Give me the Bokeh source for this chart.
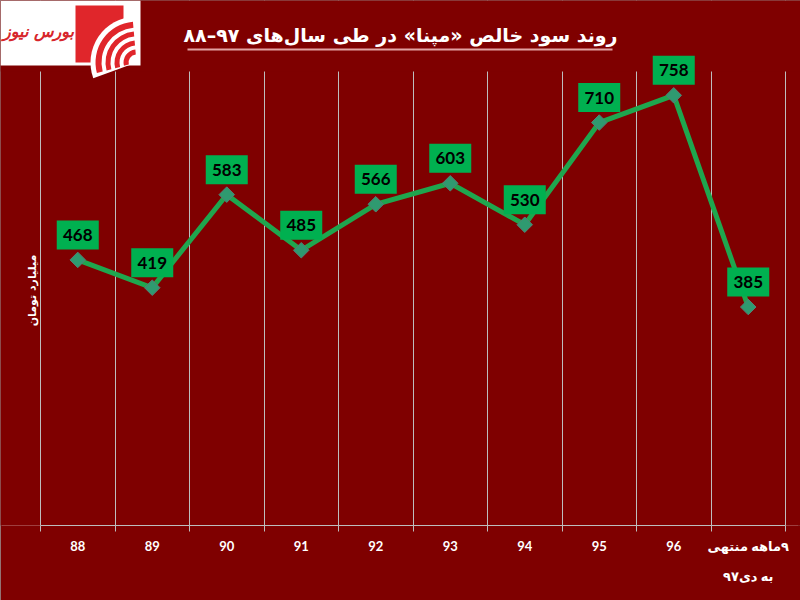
import math
from bokeh.plotting import figure
from bokeh.models import (Range1d, LinearAxis, FixedTicker, Grid, Label, ColumnDataSource, Arrow)
from bokeh.core.properties import value
from bokeh.embed import file_html
from bokeh.resources import INLINE

RLM = "\u200f"

# ---------------- data ----------------
years = ["88", "89", "90", "91", "92", "93", "94", "95", "96",
         RLM + "۹ماهه منتهی\n" + RLM + "به دی۹۷"]
profit = [468, 419, 583, 485, 566, 603, 530, 710, 758, 385]
value_labels = [str(v) for v in profit]
title_text = "روند سود خالص «مپنا» در طی سال‌های ۹۷–۸۸"
y_title = "میلیارد تومان"
logo_text = "بورس نیوز"

# ---------------- layout ----------------
W, H = 800, 600
PLOT_LEFT, PLOT_RIGHT = 40, 785      # px of first / last category boundary
AXIS_Y, GRID_TOP = 525, 71           # px of x axis line / top of grid lines
BB = H - AXIS_Y
YMAX = 800
NCAT = len(years)
UNIT = (PLOT_RIGHT - PLOT_LEFT) / NCAT
X0 = -PLOT_LEFT / UNIT
X1 = NCAT + (W - PLOT_RIGHT) / UNIT
YPX = (AXIS_Y - GRID_TOP) / YMAX     # px per data unit
Y1 = AXIS_Y / YPX

BG = "#7F0000"
GRID = "#BDBDBD"
GREEN_BOX = "#00B050"
GREEN_LINE = "#1FA64E"
LOGO_RED = "#E0262B"

def fx(px):
    return X0 + px / UNIT

def fy(py):
    return (AXIS_Y - py) / YPX

centers = [i + 0.5 for i in range(NCAT)]
bounds = list(range(NCAT + 1))

box_off_px = 25
src = ColumnDataSource(dict(
    x=centers,
    profit=profit,
    labels=value_labels,
    box_y=[v + box_off_px / YPX for v in profit],
))

p = figure(width=W, height=H,
           x_range=Range1d(X0, X1), y_range=Range1d(0, Y1),
           output_backend="svg", toolbar_location=None,
           x_axis_location=None, y_axis_location=None,
           min_border_left=0, min_border_right=0, min_border_top=0, min_border_bottom=BB,
           background_fill_color=BG, border_fill_color=BG, outline_line_color=None)
p.xgrid.visible = False
p.ygrid.visible = False
p.styles = {"outline": "2px solid #9a9a9a", "outline-offset": "-2px"}

p.add_layout(Grid(dimension=0, ticker=FixedTicker(ticks=bounds),
                  grid_line_color=GRID, grid_line_width=1))

x_axis = LinearAxis(ticker=FixedTicker(ticks=centers, minor_ticks=bounds), bounds=(0, NCAT),
                    major_label_overrides={c: y for c, y in zip(centers, years)},
                    major_tick_in=0, major_tick_out=0, minor_tick_in=0, minor_tick_out=6,
                    axis_line_color=GRID, minor_tick_line_color=GRID, major_tick_line_color=None,
                    major_label_text_color="white",
                    major_label_text_font="Lato, DejaVu Sans",
                    major_label_text_font_style="bold",
                    major_label_text_font_size="13px",
                    major_label_text_line_height=1.9,
                    major_label_standoff=6)
p.add_layout(x_axis, "below")

# mask the grid lines above the plotting area
p.quad(left=[X0], right=[X1], bottom=[YMAX], top=[Y1], fill_color=BG, line_color=None)

# logo
p.quad(left=[fx(0)], right=[fx(140)], top=[fy(0)], bottom=[fy(65)], fill_color="white", line_color=None)
p.quad(left=[fx(75)], right=[fx(123)], top=[fy(5)], bottom=[fy(62)], fill_color=LOGO_RED, line_color=None)
p.annular_wedge(x=[fx(136)], y=[fy(62)], inner_radius=[0], outer_radius=[46],
                inner_radius_units="screen", outer_radius_units="screen",
                start_angle=math.radians(92), end_angle=math.radians(200),
                fill_color="white", line_color=None)
p.annular_wedge(x=[fx(136)] * 4, y=[fy(62)] * 4,
                inner_radius=[8, 17, 26, 35], outer_radius=[13, 22, 31, 41],
                inner_radius_units="screen", outer_radius_units="screen",
                start_angle=math.radians(95), end_angle=math.radians(195),
                fill_color=LOGO_RED, line_color=None)
p.add_layout(Label(x=fx(38), y=fy(31), text=logo_text,
                   text_align="center", text_baseline="middle", text_color="#D7262B",
                   text_font="DejaVu Sans", text_font_style="bold italic", text_font_size="16px"))

# title + underline
p.add_layout(Label(x=fx(400), y=fy(34), text=title_text,
                   text_align="center", text_baseline="middle", text_color="white",
                   text_font="DejaVu Sans", text_font_style="bold", text_font_size="19px"))
p.add_layout(Arrow(end=None, x_start=fx(187), y_start=fy(49),
                   x_end=fx(612), y_end=fy(49), line_color="#E3A3A3", line_width=2))

# y axis title
p.add_layout(Label(x=fx(32), y=fy(290), text=y_title, angle=math.pi / 2,
                   text_align="center", text_baseline="middle", text_color="white",
                   text_font="DejaVu Sans", text_font_style="bold", text_font_size="11px"))

# series
p.line(x="x", y="profit", source=src, line_color=GREEN_LINE, line_width=5, line_join="miter")
p.scatter(x="x", y="profit", source=src, marker="square", angle=math.pi / 4, size=11,
          fill_color="#2F9A70", line_color="#557f74", line_width=1)
p.rect(x="x", y="box_y", width=42, height=29, width_units="screen", height_units="screen",
       source=src, fill_color=GREEN_BOX, line_color=None)
p.text(x="x", y="box_y", text="labels", source=src, text_align="center", text_baseline="middle",
       text_font=value("Lato"), text_font_style="bold", text_font_size="17px", text_color="black")

open("out.html", "w").write(file_html(p, INLINE))
